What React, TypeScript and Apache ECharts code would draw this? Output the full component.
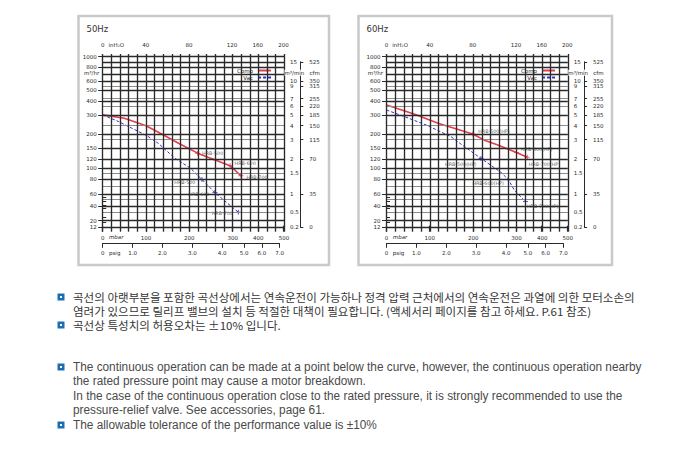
import React, { useEffect, useRef } from "react";
import * as echarts from "echarts";

// ---------------- data ----------------
const mbarTicks = [0, 100, 200, 300, 400, 500];
const inH2OTicks = [0, 40, 80, 120, 160, 200];
const psigTicks = [0, 1, 2, 3, 4, 5, 6, 7];
const psigTickLabels = ["0", "1.0", "2.0", "3.0", "4.0", "5.0", "6.0", "7.0"];
const m3hrTicks = [1000, 800, 600, 500, 400, 300, 200, 150, 120, 100, 80, 60, 40, 20, 12];
const m3minTicks = [15, 10, 9, 7, 6, 5, 4, 3, 2, 1.5, 1, 0.5, 0.2];
const m3minMinorTicks = [0.9, 0.8, 0.7, 0.6, 0.4, 0.3];
const cfmTickAtM3min = [15, 10, 9, 7, 6, 5, 4, 3, 2, 1, 0.2];
const cfmTickLabels = ["525", "350", "315", "255", "220", "185", "150", "115", "70", "35", "0"];
const vGridMbar = [0, 20, 40, 60, 80, 100, 120, 140, 160, 180, 200, 220, 240, 260, 280, 300, 333.3, 366.7, 400, 433.3, 466.7, 500];
const hGridMajor = [1000, 900, 800, 700, 600, 500, 400, 300, 200, 150, 120, 100, 80, 60, 40, 20, 12];
const hGridMinor = [540, 420, 360, 240, 180, 90, 70, 50, 30];

// [mbar, m³/hr]
const comp50 = [[0, 300], [50, 280], [100, 240], [136, 202], [175, 167], [219, 136], [294, 105], [332, 86]];
const comp50Marks = [5, 6, 7];
const comp50Names = ["HRB-500", "HRB-600", "HRB-700"];
const vac50 = [[0, 300], [36, 262], [67, 228], [102, 195], [128, 167], [167, 122], [202, 100], [229, 80], [259, 62], [322, 30]];
const vac50Marks = [7, 8, 9];
const vac50Names = ["HRB-500", "HRB-600", "HRB-700"];

const comp60 = [[0, 368], [65, 304], [119, 252], [199, 202], [226, 178], [257, 161], [300, 138], [342, 125]];
const comp60Marks = [3, 6, 7];
const comp60Names = ["HRB-500(HP)", "HRB-600(HP)", "HRB-700(HP)"];
const vac60 = [[0, 332], [42, 289], [92, 243], [149, 191], [169, 167], [218, 122], [264, 92], [281, 80], [295, 65], [335, 47]];
const vac60Marks = [5, 7, 9];
const vac60Names = ["HRB-500(HP)", "HRB-600(HP)", "HRB-700(HP)"];

const legendNames = ["Comp", "Vac"];

const notesKo = [
  "곡선의 아랫부분을 포함한 곡선상에서는 연속운전이 가능하나 정격 압력 근처에서의 연속운전은 과열에 의한 모터소손의",
  "염려가 있으므로 릴리프 밸브의 설치 등 적절한 대책이 필요합니다. (액세서리 페이지를 참고 하세요. P.61 참조)",
  "곡선상 특성치의 허용오차는 ±10% 입니다.",
];
const notesEn = [
  "The continuous operation can be made at a point below the curve, however, the continuous operation nearby",
  "the rated pressure point may cause a motor breakdown.",
  "In the case of the continuous operation close to the rated pressure, it is strongly recommended to use the",
  "pressure-relief valve. See accessories, page 61.",
  "The allowable tolerance of the performance value is ±10%",
];

// ---------------- layout / style ----------------
const FONT = '"DejaVu Sans", Verdana, sans-serif';
const RED = "#ea3b4a";
const BLUE = "#3030d6";
const INK = "#2a2a2a";
const GRID_TOP = 54;
const GRID_BOTTOM = 231.7;
const PLOT_W = 181.3;
const Y_ANCHORS: [number, number][] = [[12, 227.3], [20, 220.7], [40, 206.3], [60, 194.3], [100, 168], [1000, 56.7]];
const X_BREAK = 300;
const X_COMPRESS = 0.592;
const MBAR_PER_PSI = 68.948;
const MBAR_PER_INH2O = 2.4884;
const M3HR_PER_M3MIN = 60;
const PLUS = "path://M2,0H3V2H5V3H3V5H2V3H0V2H2Z";
const ICON_SOLID = "path://M0,0H13V2H0Z";
const ICON_DASH = "path://M0,0H3V2H0Z M5,0H8V2H5Z M10,0H13V2H10Z";

function yPx(v: number) {
  const l = Math.log10(v);
  const a = Y_ANCHORS;
  for (let i = 0; i < a.length - 1; i++) {
    const l0 = Math.log10(a[i][0]);
    const l1 = Math.log10(a[i + 1][0]);
    if (l <= l1 || i === a.length - 2) {
      const t = (l - l0) / (l1 - l0);
      return a[i][1] + t * (a[i + 1][1] - a[i][1]);
    }
  }
  return a[0][1];
}
const P = (v: number) => GRID_BOTTOM - yPx(v);
const U = (m: number) => (m <= X_BREAK ? m : X_BREAK + (m - X_BREAK) * X_COMPRESS);
const X_MAX = U(500);
const X_SCALE = PLOT_W / X_MAX;

function labeler(pos: number[], labels: string[]) {
  return (v: number) => {
    for (let i = 0; i < pos.length; i++) if (Math.abs(pos[i] - v) < 1e-3) return labels[i];
    return "";
  };
}

const lblStyle = { fontSize: 5.5, color: INK, fontFamily: FONT, hideOverlap: false, showMinLabel: true, showMaxLabel: true };

type LP = { pos: string; off: number[] };
type PanelCfg = {
  title: string; left: number; boxX: number; boxW: number; legendLeft: number;
  comp: number[][]; compMarks: number[]; compNames: string[]; compLP: LP[];
  vac: number[][]; vacMarks: number[]; vacNames: string[]; vacLP: LP[];
};

const panels: PanelCfg[] = [
  {
    title: "50Hz", left: 102.7, boxX: 78.5, boxW: 250.5, legendLeft: 235,
    comp: comp50, compMarks: comp50Marks, compNames: comp50Names,
    compLP: [{ pos: "right", off: [0, 0] }, { pos: "right", off: [0, -2] }, { pos: "right", off: [1, 2] }],
    vac: vac50, vacMarks: vac50Marks, vacNames: vac50Names,
    vacLP: [{ pos: "left", off: [-2, 3] }, { pos: "left", off: [-1, 2] }, { pos: "left", off: [-1, 1] }],
  },
  {
    title: "60Hz", left: 386.5, boxX: 358.5, boxW: 253.5, legendLeft: 519,
    comp: comp60, compMarks: comp60Marks, compNames: comp60Names,
    compLP: [{ pos: "right", off: [1, -3] }, { pos: "right", off: [0, -3] }, { pos: "right", off: [-3, 7] }],
    vac: vac60, vacMarks: vac60Marks, vacNames: vac60Names,
    vacLP: [{ pos: "left", off: [0, 6] }, { pos: "left", off: [0, 4] }, { pos: "right", off: [-3, 5] }],
  },
];

function buildOption() {
  const grid: any[] = [];
  const xAxis: any[] = [];
  const yAxis: any[] = [];
  const series: any[] = [];
  const legend: any[] = [];
  const graphic: any[] = [];

  panels.forEach((p, pi) => {
    const g = pi * 3;
    const ax = pi * 4;
    const psigMax = U(7 * MBAR_PER_PSI);
    const cfmTop = yPx(15 * M3HR_PER_M3MIN);
    const cfmBottom = yPx(0.2 * M3HR_PER_M3MIN);
    grid.push({ left: p.left, top: GRID_TOP, width: PLOT_W, height: GRID_BOTTOM - GRID_TOP, outerBoundsMode: "none", containLabel: false });
    grid.push({ left: p.left, top: 242.3, width: psigMax * X_SCALE, height: 1, outerBoundsMode: "none", containLabel: false });
    grid.push({ left: p.left + PLOT_W + 20.3 - 4, top: cfmTop, width: 4, height: cfmBottom - cfmTop, outerBoundsMode: "none", containLabel: false });

    const mbarPos = mbarTicks.map(U);
    const inPos = inH2OTicks.map((v) => U(v * MBAR_PER_INH2O));
    const psigPos = psigTicks.map((v) => U(v * MBAR_PER_PSI));
    xAxis.push({
      type: "value", gridIndex: g, position: "bottom", min: 0, max: X_MAX,
      axisLine: { show: false }, axisTick: { show: false }, splitLine: { show: false },
      axisLabel: { ...lblStyle, customValues: mbarPos, formatter: labeler(mbarPos, mbarTicks.map(String)), margin: 3 },
    });
    xAxis.push({
      type: "value", gridIndex: g, position: "top", min: 0, max: X_MAX,
      axisLine: { show: false }, splitLine: { show: false },
      axisTick: { show: true, customValues: inPos, length: 6, lineStyle: { color: INK, width: 1.2 } },
      axisLabel: { ...lblStyle, customValues: inPos, formatter: labeler(inPos, inH2OTicks.map(String)), margin: 6.5 },
    });
    xAxis.push({
      type: "value", gridIndex: g + 1, position: "bottom", min: 0, max: psigMax,
      axisLine: { show: true, lineStyle: { color: INK, width: 1 } }, splitLine: { show: false },
      axisTick: { show: true, customValues: psigPos, length: 4.5, lineStyle: { color: INK, width: 1 } },
      axisLabel: { ...lblStyle, customValues: psigPos, formatter: labeler(psigPos, psigTickLabels), margin: 7 },
    });
    xAxis.push({ type: "value", gridIndex: g + 2, min: 0, max: 1, show: false });

    const hrPos = m3hrTicks.map(P);
    const minPos = m3minTicks.map((v) => P(v * M3HR_PER_M3MIN));
    const minMinorPos = m3minMinorTicks.map((v) => P(v * M3HR_PER_M3MIN));
    const cfmPos = cfmTickAtM3min.map((v) => P(v * M3HR_PER_M3MIN));
    yAxis.push({
      type: "value", gridIndex: g, position: "left", min: 0, max: GRID_BOTTOM - GRID_TOP,
      axisLine: { show: false }, splitLine: { show: false },
      axisTick: { show: true, customValues: hrPos, length: 4.5, lineStyle: { color: INK, width: 1 } },
      axisLabel: { ...lblStyle, customValues: hrPos, formatter: labeler(hrPos, m3hrTicks.map(String)), margin: 6 },
    });
    yAxis.push({
      type: "value", gridIndex: g, position: "right", min: 0, max: GRID_BOTTOM - GRID_TOP,
      axisLine: { show: false }, splitLine: { show: false },
      axisTick: { show: true, customValues: [...minPos, ...minMinorPos], length: 3.5, lineStyle: { color: INK, width: 1 } },
      axisLabel: { ...lblStyle, customValues: minPos, formatter: labeler(minPos, m3minTicks.map(String)), margin: 6 },
    });
    yAxis.push({ type: "value", gridIndex: g + 1, min: 0, max: 1, show: false });
    yAxis.push({
      type: "value", gridIndex: g + 2, position: "right", min: P(0.2 * M3HR_PER_M3MIN), max: P(15 * M3HR_PER_M3MIN),
      axisLine: { show: true, lineStyle: { color: INK, width: 1 } }, splitLine: { show: false },
      axisTick: { show: true, customValues: cfmPos, length: 3, lineStyle: { color: INK, width: 1 } },
      axisLabel: { ...lblStyle, customValues: cfmPos, formatter: labeler(cfmPos, cfmTickLabels), margin: 5 },
    });

    const mlData: any[] = [
      ...hGridMinor.map((v) => ({ yAxis: P(v), lineStyle: { color: "#8c8c8c", width: 1, type: "solid" } })),
      ...hGridMajor.map((v) => ({ yAxis: P(v), lineStyle: { color: "#2a2a2a", width: 1.35, type: "solid" } })),
      ...vGridMbar.map((m) => ({ xAxis: U(m), lineStyle: { color: "#2a2a2a", width: 1.35, type: "solid" } })),
    ];
    series.push({
      type: "line", xAxisIndex: ax, yAxisIndex: ax, data: [], silent: true, z: 1,
      markLine: { silent: true, symbol: ["none", "none"], label: { show: false }, animation: false, lineStyle: { type: "solid" }, emphasis: { disabled: true }, data: mlData },
    });

    series.push({
      type: "line", name: legendNames[0], xAxisIndex: ax, yAxisIndex: ax, silent: true, z: 3,
      data: p.comp.map(([m, v]) => [U(m), P(v)]), symbol: "none",
      lineStyle: { color: RED, width: 1.6 }, itemStyle: { color: RED },
    });
    series.push({
      type: "line", name: legendNames[1], xAxisIndex: ax, yAxisIndex: ax, silent: true, z: 3,
      data: p.vac.map(([m, v]) => [U(m), P(v)]), symbol: "none",
      lineStyle: { color: BLUE, width: 1, type: [3, 2] }, itemStyle: { color: BLUE },
    });
    const markSeries = (pts: number[][], idxs: number[], names: string[], lp: LP[], color: string, nm: string) => ({
      type: "scatter", name: nm, xAxisIndex: ax, yAxisIndex: ax, silent: true, z: 4,
      symbol: PLUS, symbolSize: 5, itemStyle: { color },
      label: { show: true, formatter: "{b}", fontSize: 4.8, color: INK, fontFamily: FONT, distance: 2 },
      data: idxs.map((idx, i) => ({
        name: names[i], value: [U(pts[idx][0]), P(pts[idx][1])],
        label: { position: lp[i].pos, offset: lp[i].off },
      })),
    });
    series.push(markSeries(p.comp, p.compMarks, p.compNames, p.compLP, RED, "Comp marks"));
    series.push(markSeries(p.vac, p.vacMarks, p.vacNames, p.vacLP, BLUE, "Vac marks"));

    legend.push({
      left: p.legendLeft, top: 66.5, orient: "vertical", align: "right",
      data: [{ name: legendNames[0], icon: ICON_SOLID }, { name: legendNames[1], icon: ICON_DASH }],
      itemWidth: 13, itemHeight: 2, itemGap: 1, selectedMode: false, backgroundColor: "#fff", padding: [1, 2, 1, 2],
      textStyle: { fontSize: 5.5, color: INK, fontFamily: FONT },
    });

    const dx = p.left - 102.7;
    graphic.push({ type: "rect", z: 0, shape: { x: p.boxX, y: 16, width: p.boxW, height: 249 }, style: { fill: "none", stroke: "#c9c9c9", lineWidth: 2.5 } });
    const txt = (t: string, x: number, y: number, extra: any = {}) => ({
      type: "text", z: 10, x, y,
      style: { text: t, fill: INK, fontSize: 5.5, fontFamily: FONT, align: "left", verticalAlign: "middle", textAlign: "left", textVerticalAlign: "middle", ...extra },
    });
    graphic.push(txt(p.title, p.boxX + 8, 29, { fontSize: 8.5, fill: "#333" }));
    graphic.push(txt("inH₂O", 108.5 + dx, 45));
    graphic.push(txt("mbar", 109 + dx, 237.4, { fontStyle: "italic" }));
    graphic.push(txt("psig", 109 + dx, 253.4));
    graphic.push(txt("m³/hr", 84 + dx, 73.3));
    graphic.push(txt("m³/min", 284.5 + dx, 72.7, { backgroundColor: "#fff" }));
    graphic.push(txt("cfm", 309.5 + dx, 72.7));
  });

  // notes
  const bullet = (yc: number) => [
    { type: "rect", z: 10, shape: { x: 57.5, y: yc - 3.5, width: 7, height: 7 }, style: { fill: "#1d6db5" } },
    { type: "rect", z: 11, shape: { x: 60, y: yc - 1, width: 2, height: 2 }, style: { fill: "#fff" } },
  ];
  const koY = [297, 311, 325];
  const enY = [367, 381, 396, 410, 425];
  notesKo.forEach((t, i) => {
    graphic.push({ type: "text", z: 10, x: 73, y: koY[i], scaleX: 1.05, style: { text: t, fill: "#353535", fontSize: 11, fontFamily: '"Noto Sans CJK KR", sans-serif', verticalAlign: "middle", textVerticalAlign: "middle" } });
  });
  notesEn.forEach((t, i) => {
    graphic.push({ type: "text", z: 10, x: 73, y: enY[i], scaleX: 0.945, style: { text: t, fill: "#4a4a4a", fontSize: 12.5, fontFamily: '"Liberation Sans", Arial, sans-serif', verticalAlign: "middle", textVerticalAlign: "middle" } });
  });
  [koY[0], koY[2], enY[0], enY[4]].forEach((y) => graphic.push(...bullet(y)));

  return { animation: false, backgroundColor: "#fff", grid, xAxis, yAxis, series, legend, graphic };
}

export default function App() {
  const ref = useRef<HTMLDivElement>(null);
  useEffect(() => {
    const chart = echarts.init(ref.current!, null, { renderer: "svg", width: 690, height: 455 });
    chart.setOption(buildOption() as any);
    return () => chart.dispose();
  }, []);
  return <div ref={ref} style={{ position: "absolute", left: 0, top: 0, width: 690, height: 455, background: "#fff" }} />;
}
